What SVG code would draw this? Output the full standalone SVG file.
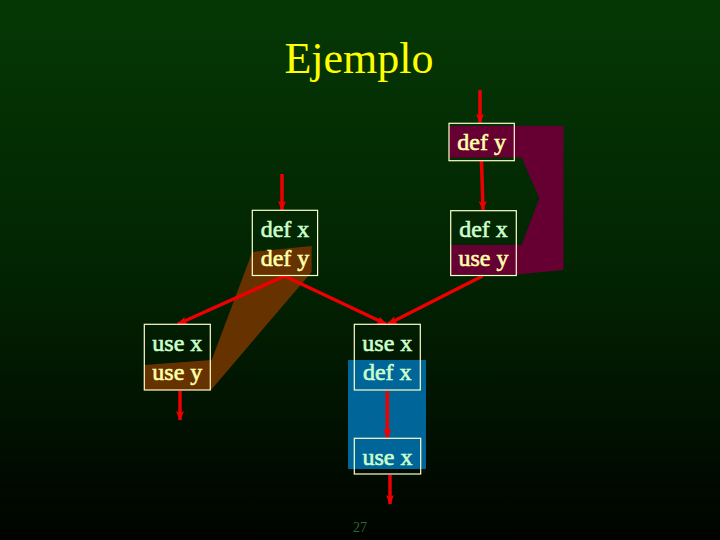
<svg xmlns="http://www.w3.org/2000/svg" width="720" height="540" viewBox="0 0 720 540">
  <defs>
    <linearGradient id="bg" x1="0" y1="0" x2="0" y2="1">
      <stop offset="0" stop-color="#053805"/>
      <stop offset="0.5" stop-color="#022402"/>
      <stop offset="1" stop-color="#000300"/>
    </linearGradient>
    <marker id="ah" markerUnits="userSpaceOnUse" markerWidth="12" markerHeight="10" refX="9" refY="4" orient="auto">
      <path d="M0,0 L10,4 L0,8 L2,4 z" fill="#ee0000"/>
    </marker>
    <style>
      .box { fill: none; stroke: #ffffcc; stroke-width: 1.2; }
      .t { font-family: "Liberation Serif", "Times New Roman", serif; font-size: 24px; text-anchor: middle; stroke-width: 0.6px; }
      .g { fill: #ccffcc; stroke: #ccffcc; }
      .y { fill: #ffffaa; stroke: #ffffaa; }
      .c { stroke: #ee0000; stroke-width: 3.5; fill: none; marker-end: url(#ah); }
    </style>
  </defs>
  <rect width="720" height="540" fill="url(#bg)"/>

  <text x="359" y="73" font-family="Liberation Serif, Times New Roman, serif" font-size="44" fill="#ffff00" text-anchor="middle">Ejemplo</text>

  <g id="regions">
    <polygon points="252.3,252 311.7,246 311.7,272 211,390 144.3,390 144.3,365 211.7,360" fill="#663300"/>
    <polygon points="449,126 563.5,126 563.5,270 516.5,274.5 450.7,274.5 450.7,245 521.7,245 539.3,198.3 521.7,157.5 449,157.5" fill="#660033"/>
    <rect x="348" y="360" width="78" height="109" fill="#006699"/>
  </g>

  <g id="connectors">
    <line class="c" x1="480" y1="90" x2="480" y2="123"/>
    <line class="c" x1="481.5" y1="161" x2="483" y2="210"/>
    <line class="c" x1="282" y1="174" x2="282" y2="210"/>
    <line class="c" x1="284.5" y1="276" x2="178" y2="324"/>
    <line class="c" x1="284.5" y1="276" x2="386" y2="324"/>
    <line class="c" x1="482.5" y1="276" x2="388" y2="324"/>
    <line class="c" x1="387.3" y1="391" x2="387.3" y2="438"/>
    <line class="c" x1="180" y1="391" x2="180" y2="420"/>
    <line class="c" x1="390" y1="475" x2="390" y2="504"/>
  </g>

  <g id="n_defy_top">
    <rect class="box" x="449" y="123.3" width="65.3" height="37.4"/>
    <text class="t y" x="481.6" y="150">def y</text>
  </g>
  <g id="n_defx_defy">
    <rect class="box" x="252.3" y="210.3" width="65.3" height="65.2"/>
    <text class="t g" x="285" y="237">def x</text>
    <text class="t y" x="285" y="266">def y</text>
  </g>
  <g id="n_defx_usey">
    <rect class="box" x="450.7" y="210.7" width="65.6" height="64.8"/>
    <text class="t g" x="483.5" y="237">def x</text>
    <text class="t y" x="483.5" y="266">use y</text>
  </g>
  <g id="n_usex_usey">
    <rect class="box" x="144.3" y="324.3" width="66" height="65.7"/>
    <text class="t g" x="177.3" y="351">use x</text>
    <text class="t y" x="177.3" y="380">use y</text>
  </g>
  <g id="n_usex_defx">
    <rect class="box" x="354.3" y="324.3" width="66" height="65.7"/>
    <text class="t g" x="387.3" y="351">use x</text>
    <text class="t g" x="387.3" y="380">def x</text>
  </g>
  <g id="n_usex_bottom">
    <rect class="box" x="354.3" y="438.3" width="66.4" height="35.7"/>
    <text class="t g" x="387.5" y="464.5">use x</text>
  </g>

  <text x="360" y="532" font-family="Liberation Serif, Times New Roman, serif" font-size="14" fill="#336633" text-anchor="middle">27</text>
</svg>
